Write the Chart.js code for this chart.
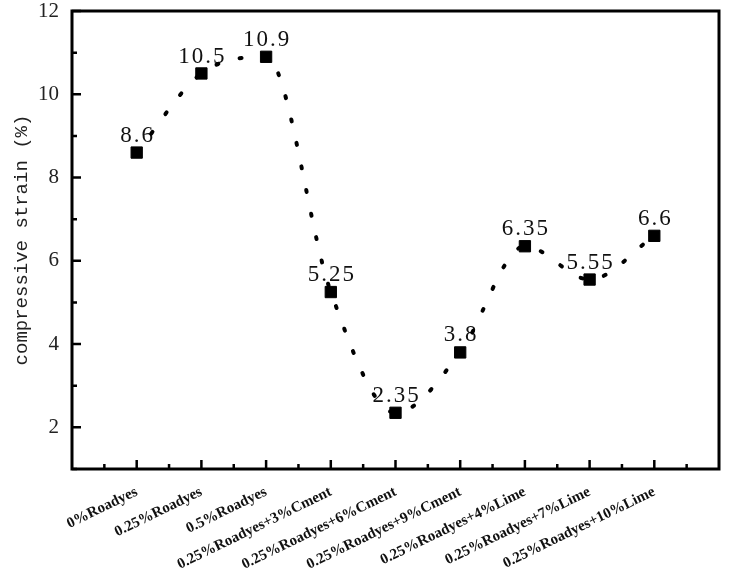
<!DOCTYPE html>
<html>
<head>
<meta charset="utf-8">
<script src="https://cdn.jsdelivr.net/npm/chart.js@4.4.1/dist/chart.umd.min.js"></script>
<style>
  html, body { margin: 0; padding: 0; background: #fff; }
</style>
</head>
<body>
<canvas id="chart" width="729" height="579"></canvas>
<script>
// --- data ---
const categories = ['0%Roadyes', '0.25%Roadyes', '0.5%Roadyes', '0.25%Roadyes+3%Cment', '0.25%Roadyes+6%Cment',
  '0.25%Roadyes+9%Cment', '0.25%Roadyes+4%Lime', '0.25%Roadyes+7%Lime', '0.25%Roadyes+10%Lime'];
const strainValues = [8.6, 10.5, 10.9, 5.25, 2.35, 3.8, 6.35, 5.55, 6.6];
const yMajorTicks = [2, 4, 6, 8, 10, 12];
const yMinorTicks = [1, 3, 5, 7, 9, 11];

const points = strainValues.map((v, i) => ({ x: i, y: v }));
const xMajor = categories.map((_, i) => i);
const xMinor = categories.map((_, i) => i - 0.5).concat([categories.length - 0.5]);

// frame + inward ticks
const framePlugin = {
  id: 'frame',
  afterDraw(chart) {
    const { ctx, chartArea: a, scales: { x, y } } = chart;
    ctx.save();
    ctx.strokeStyle = '#000';
    ctx.lineWidth = 3;
    ctx.strokeRect(a.left, a.top, a.right - a.left, a.bottom - a.top);
    ctx.lineWidth = 2.5;
    ctx.beginPath();
    xMajor.forEach(v => { const p = x.getPixelForValue(v); ctx.moveTo(p, a.bottom); ctx.lineTo(p, a.bottom - 9); });
    xMinor.forEach(v => { const p = x.getPixelForValue(v); ctx.moveTo(p, a.bottom); ctx.lineTo(p, a.bottom - 5); });
    yMajorTicks.forEach(v => { const p = y.getPixelForValue(v); ctx.moveTo(a.left, p); ctx.lineTo(a.left + 9, p); });
    yMinorTicks.forEach(v => { const p = y.getPixelForValue(v); ctx.moveTo(a.left, p); ctx.lineTo(a.left + 5, p); });
    ctx.stroke();
    ctx.restore();
  }
};

// value labels above each point
const valueLabels = {
  id: 'valueLabels',
  beforeDatasetsDraw(chart) {
    const { ctx } = chart;
    const meta = chart.getDatasetMeta(0);
    ctx.save();
    ctx.font = '23px "Liberation Serif"';
    ctx.letterSpacing = '2px';
    ctx.fillStyle = '#111';
    ctx.textAlign = 'center';
    ctx.textBaseline = 'middle';
    meta.data.forEach((pt, i) => {
      ctx.fillText(String(strainValues[i]), pt.x + 1, pt.y - 17);
    });
    ctx.restore();
  }
};

new Chart(document.getElementById('chart'), {
  type: 'line',
  data: {
    datasets: [{
      data: points,
      borderColor: '#000',
      backgroundColor: '#000',
      borderWidth: 4,
      borderDash: [2, 22],
      borderCapStyle: 'round',
      cubicInterpolationMode: 'monotone',
      pointStyle: 'rect',
      pointRadius: 8,
      pointBorderWidth: 1,
      pointBackgroundColor: '#000',
      pointBorderColor: '#000'
    }]
  },
  options: {
    responsive: false,
    animation: false,
    devicePixelRatio: 1,
    layout: { padding: { top: 11, right: 10, left: 0, bottom: 0 } },
    plugins: { legend: { display: false }, tooltip: { enabled: false } },
    scales: {
      x: {
        type: 'linear',
        min: -1,
        max: 9,
        grid: { display: false, drawTicks: false },
        border: { display: false },
        afterBuildTicks: (s) => { s.ticks = xMajor.map(v => ({ value: v })); },
        afterFit: (s) => { s.height = 110; s.paddingLeft = 0; s.paddingRight = 0; },
        ticks: {
          autoSkip: false,
          minRotation: 26,
          maxRotation: 26,
          padding: 14,
          color: '#111',
          font: { family: 'Liberation Serif', size: 15, weight: 'bold' },
          callback: (v) => categories[v] ?? ''
        }
      },
      y: {
        min: 1,
        max: 12,
        grid: { display: false, drawTicks: false },
        border: { display: false },
        afterBuildTicks: (s) => { s.ticks = yMajorTicks.map(v => ({ value: v })); },
        afterFit: (s) => { s.width = 72; s.paddingTop = 0; s.paddingBottom = 0; },
        ticks: {
          padding: 13,
          color: '#222',
          font: { family: 'Liberation Serif', size: 21 }
        },
        title: {
          display: true,
          text: 'compressive strain (%)',
          color: '#222',
          padding: { top: 11, bottom: 0 },
          font: { family: 'Liberation Mono', size: 19 }
        }
      }
    }
  },
  plugins: [framePlugin, valueLabels]
});
</script>
</body>
</html>
